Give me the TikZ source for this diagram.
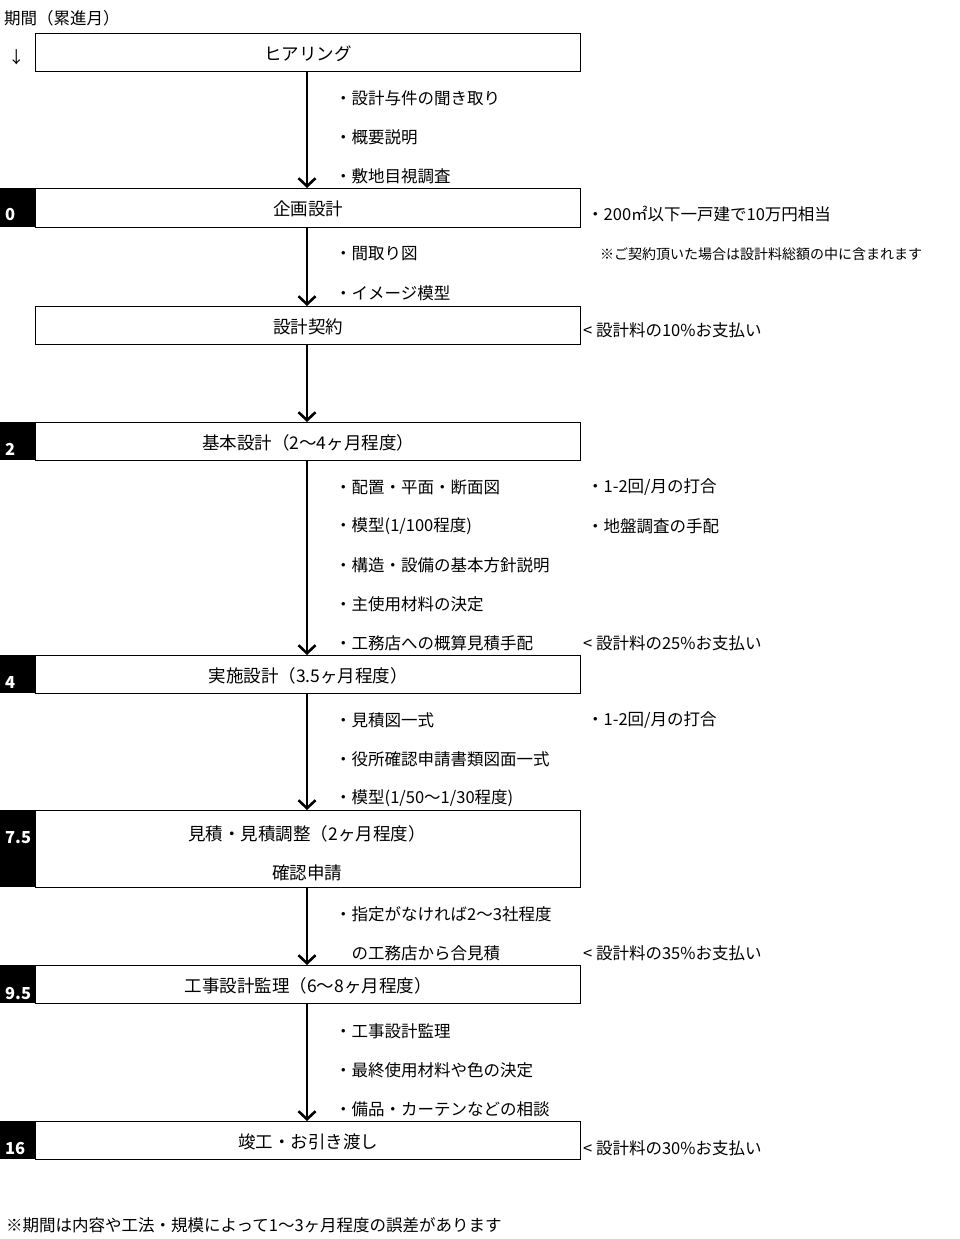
\documentclass[tikz,border=0pt]{standalone}
\usepackage{fontspec}
\setmainfont{Noto Sans CJK JP}
\usetikzlibrary{arrows.meta}
\begin{document}
\begin{tikzpicture}[x=1pt,y=-1pt,
 stage/.style={draw,line width=1.3pt,minimum width=545pt,anchor=north west,inner sep=0pt,text depth=-3pt},
 lab/.style={fill=black,anchor=north west,inner sep=0pt,minimum width=35pt},
 t/.style={anchor=west,font=\fontsize{16.5}{16.5}\selectfont,inner sep=0pt},
 s/.style={anchor=west,font=\fontsize{14}{14}\selectfont,inner sep=0pt},
 flow/.style={line width=1.3pt,-{Straight Barb[length=8pt,width=17pt,line width=2.6pt]}},
 every node/.append style={font=\fontsize{17.5}{17.5}\selectfont}]
\useasboundingbox (0,0) rectangle (960,1239);
\node[t] (hdr) at (4,18) {期間（累進月）};
\node[t] (dn) at (8,57) {↓};
\node[stage,minimum height=38pt] (b1) at (35,33) {ヒアリング};
\node[stage,minimum height=39pt] (b2) at (35,188) {企画設計};
\node[stage,minimum height=38pt] (b3) at (35,306) {設計契約};
\node[stage,minimum height=38pt] (b4) at (35,422) {基本設計（2〜4ヶ月程度）};
\node[stage,minimum height=38pt] (b5) at (35,655) {実施設計（3.5ヶ月程度）};
\node[stage,minimum height=77pt] (b6) at (35,810) {};
\node (b6a) at (307,834) {見積・見積調整（2ヶ月程度）};
\node (b6b) at (307,873) {確認申請};
\node[stage,minimum height=38pt] (b7) at (35,965) {工事設計監理（6〜8ヶ月程度）};
\node[stage,minimum height=38pt] (b8) at (35,1121) {竣工・お引き渡し};
\foreach \n/\y/\h in {l2/188/39,l4/422/38,l5/655/38,l6/810/77,l7/965/38,l8/1121/38}
 \node[lab,minimum height=\h pt] (\n) at (0,\y) {};
\foreach \n/\y/\v in {a/215/0,b/449/2,c/683/4,d/838/7.5,e/993/9.5,f/1148/16}
 \node[anchor=west,text=white,font=\bfseries\fontsize{16.5}{16.5}\selectfont,inner sep=0pt] (n\n) at (5,\y) {\v};
\foreach \a/\b in {b1/b2,b2/b3,b3/b4,b4/b5,b5/b6,b6/b7,b7/b8}
 \draw[flow] (\a.south-|307,0) -- (\b.north-|307,0);
\node[t] (c1) at (335,98) {・設計与件の聞き取り};
\node[t] (c2) at (335,137) {・概要説明};
\node[t] (c3) at (335,176) {・敷地目視調査};
\node[t] (c4) at (587,214) {・200㎡以下一戸建で10万円相当};
\node[s] (c5) at (600,254) {※ご契約頂いた場合は設計料総額の中に含まれます};
\node[t] (c6) at (335,254) {・間取り図};
\node[t] (c7) at (335,293) {・イメージ模型};
\node[t] (c8) at (583,330) {< 設計料の10\%お支払い};
\node[t] (d1) at (335,487) {・配置・平面・断面図};
\node[t] (d2) at (335,526) {・模型(1/100程度)};
\node[t] (d3) at (335,565) {・構造・設備の基本方針説明};
\node[t] (d4) at (335,604) {・主使用材料の決定};
\node[t] (d5) at (335,643) {・工務店への概算見積手配};
\node[t] (d6) at (587,487) {・1-2回/月の打合};
\node[t] (d7) at (587,526) {・地盤調査の手配};
\node[t] (d8) at (583,643) {< 設計料の25\%お支払い};
\node[t] (e1) at (335,720) {・見積図一式};
\node[t] (e2) at (335,759) {・役所確認申請書類図面一式};
\node[t] (e3) at (335,798) {・模型(1/50〜1/30程度)};
\node[t] (e4) at (587,720) {・1-2回/月の打合};
\node[t] (f1) at (335,914) {・指定がなければ2〜3社程度};
\node[t] (f2) at (335,953) {\phantom{・}の工務店から合見積};
\node[t] (f3) at (583,953) {< 設計料の35\%お支払い};
\node[t] (g1) at (335,1031) {・工事設計監理};
\node[t] (g2) at (335,1070) {・最終使用材料や色の決定};
\node[t] (g3) at (335,1109) {・備品・カーテンなどの相談};
\node[t] (g4) at (583,1148) {< 設計料の30\%お支払い};
\node[t] (foot) at (6,1225) {※期間は内容や工法・規模によって1〜3ヶ月程度の誤差があります};
\end{tikzpicture}
\end{document}
